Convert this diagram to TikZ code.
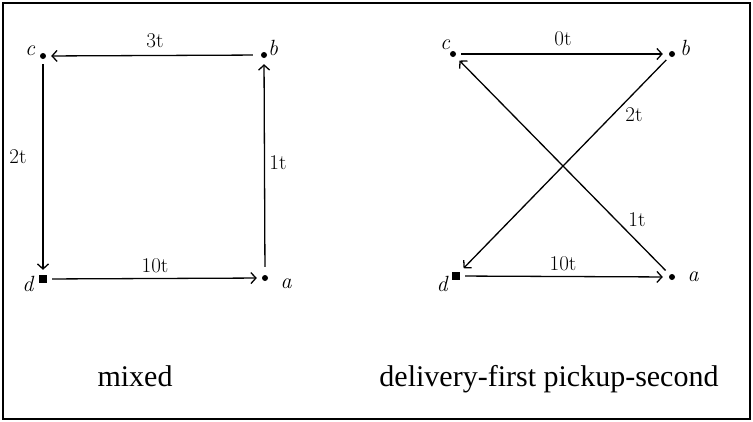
\documentclass[tikz,border=0pt]{standalone}
\usepackage{fontspec}
\setmainfont{Liberation Serif}
\usetikzlibrary{arrows.meta}
\newfontfamily\handfont{Latin Modern Roman}
\begin{document}
\begin{tikzpicture}[x=1pt,y=-1pt,
  dotnode/.style={circle,fill=black,inner sep=0pt,minimum size=6pt},
  depot/.style={rectangle,fill=black,inner sep=0pt,minimum size=8pt},
  arr/.style={line width=1.3pt,-{Straight Barb[length=5pt,width=11pt,line width=1.3pt]}},
  lbl/.style={font=\handfont\fontsize{21}{21}\selectfont,inner sep=0pt},
  vlbl/.style={font=\handfont\itshape\fontsize{22}{22}\selectfont,inner sep=0pt},
  captext/.style={font=\fontsize{30}{30}\selectfont,anchor=base,inner sep=0pt}]
\useasboundingbox (0,0) rectangle (753,421);
\draw[line width=2pt] (3,3) rectangle (750,419);
% left: mixed
\node[dotnode] (cL) at (43,56) {};
\node[dotnode] (bL) at (264,55) {};
\node[depot]   (dL) at (43,279) {};
\node[dotnode] (aL) at (265,278) {};
\node[vlbl] (lcL) at (30,51) {c};
\node[vlbl] (lbL) at (273,48) {b};
\node[vlbl] (ldL) at (28,284) {d};
\node[vlbl] (laL) at (286,284) {a};
\draw[arr,shorten <=8pt,shorten >=5pt] (bL) -- (cL);
\draw[arr,shorten <=5pt,shorten >=5pt] (cL) -- (dL);
\draw[arr,shorten <=5pt,shorten >=5pt] (dL) -- (aL);
\draw[arr,shorten <=8pt,shorten >=6pt] (aL) -- (bL);
\node[lbl] (e3t) at (155,41) {3t};
\node[lbl] (e2t) at (18,157) {2t};
\node[lbl] (e1t) at (278,163) {1t};
\node[lbl] (e10t) at (155,266) {10t};
\node[captext] (capL) at (135,386) {mixed};
% right: delivery-first pickup-second
\node[dotnode] (cR) at (453,54) {};
\node[dotnode] (bR) at (672,54) {};
\node[depot]   (dR) at (456,276) {};
\node[dotnode] (aR) at (672,277) {};
\node[vlbl] (lcR) at (445,45) {c};
\node[vlbl] (lbR) at (685,48) {b};
\node[vlbl] (ldR) at (442,284) {d};
\node[vlbl] (laR) at (693,277) {a};
\draw[arr,shorten <=5pt,shorten >=6pt] (cR) -- (bR);
\draw[arr,shorten <=5pt,shorten >=5pt] (bR) -- (dR);
\draw[arr,shorten <=5pt,shorten >=6pt] (dR) -- (aR);
\draw[arr,shorten <=6pt,shorten >=6pt] (aR) -- (cR);
\node[lbl] (r0t) at (563,39) {0t};
\node[lbl] (r2t) at (634,115) {2t};
\node[lbl] (r1t) at (637,220) {1t};
\node[lbl] (r10t) at (563,264) {10t};
\node[captext] (capR) at (549,386) {delivery-first pickup-second};
\end{tikzpicture}
\end{document}
